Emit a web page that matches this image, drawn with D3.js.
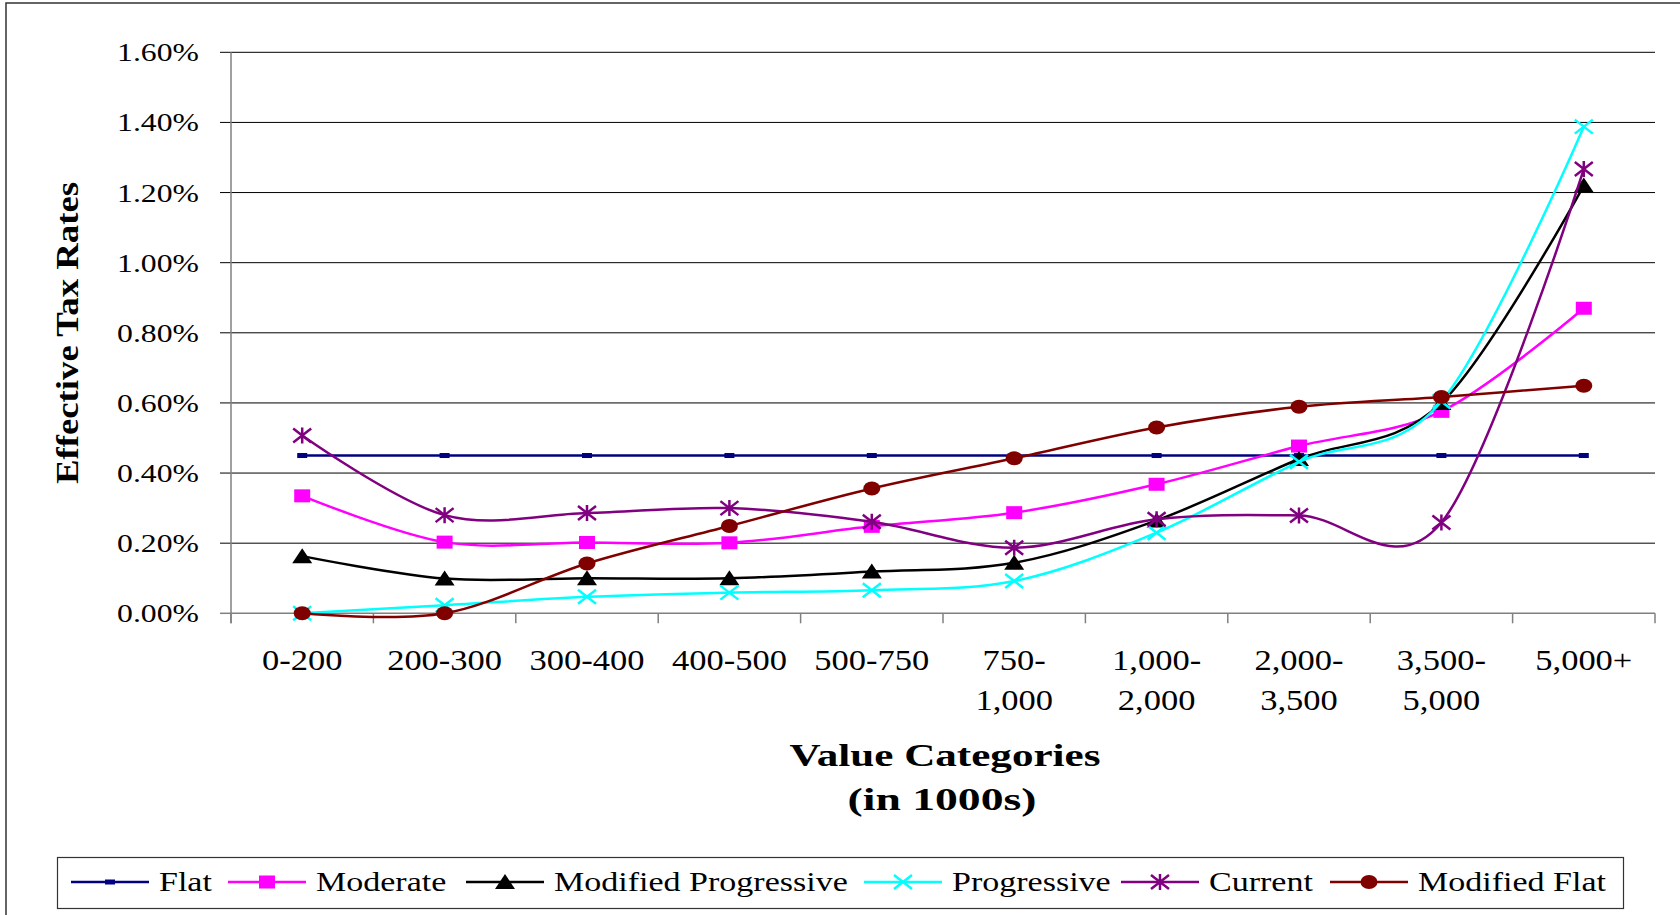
<!DOCTYPE html>
<html>
<head>
<meta charset="utf-8">
<script src="https://cdn.jsdelivr.net/npm/d3@7"></script>
<style>
  body { margin: 0; background: #fff; }
  svg { display: block; }
  text { font-family: "Liberation Serif", "Times New Roman", serif; fill: #000; }
</style>
</head>
<body>
<div id="chart"></div>
<script>
// categories (x axis), value in percent
var categories = ["0-200", "200-300", "300-400", "400-500", "500-750",
  "750-\n1,000", "1,000-\n2,000", "2,000-\n3,500", "3,500-\n5,000", "5,000+"];

var flat         = [0.45, 0.45, 0.45, 0.45, 0.45, 0.45, 0.45, 0.45, 0.45, 0.45];
var moderate     = [0.335, 0.203, 0.202, 0.201, 0.248, 0.287, 0.368, 0.477, 0.576, 0.87];
var modProg      = [0.163, 0.099, 0.10, 0.10, 0.119, 0.144, 0.265, 0.44, 0.60, 1.22];
var progressive  = [0.0, 0.023, 0.047, 0.059, 0.066, 0.092, 0.23, 0.432, 0.604, 1.388];
var current      = [0.507, 0.28, 0.286, 0.30, 0.261, 0.187, 0.268, 0.279, 0.259, 1.267];
var modifiedFlat = [0.0, 0.0, 0.142, 0.249, 0.356, 0.442, 0.53, 0.589, 0.617, 0.649];

var yTicks = [0, 0.2, 0.4, 0.6, 0.8, 1.0, 1.2, 1.4, 1.6];

var series = [
  { name: "Flat", values: flat, color: "#000080", marker: "dash" },
  { name: "Moderate", values: moderate, color: "#FF00FF", marker: "square" },
  { name: "Modified Progressive", values: modProg, color: "#000000", marker: "triangle" },
  { name: "Progressive", values: progressive, color: "#00FFFF", marker: "x" },
  { name: "Current", values: current, color: "#800080", marker: "star" },
  { name: "Modified Flat", values: modifiedFlat, color: "#800000", marker: "circle" }
];

var width = 1680, height = 915;
var plotLeft = 231, plotRight = 1655, plotTop = 52.3, plotBottom = 613.3;

var svg = d3.select("#chart").append("svg")
  .attr("width", width)
  .attr("height", height);

// outer chart border
svg.append("rect")
  .attr("x", 6).attr("y", 3)
  .attr("width", width + 20).attr("height", height + 20)
  .attr("fill", "#fff")
  .attr("stroke", "#333")
  .attr("stroke-width", 1.5);

var x = d3.scaleBand().domain(categories).range([plotLeft, plotRight]).padding(0);
var y = d3.scaleLinear().domain([0, 1.6]).range([plotBottom, plotTop]);
var cx = function (i) { return x(categories[i]) + x.bandwidth() / 2; };

// gridlines + left ticks
svg.selectAll("line.grid")
  .data(yTicks.slice(1))
  .enter().append("line")
  .attr("class", "grid")
  .attr("x1", plotLeft - 11).attr("x2", plotRight)
  .attr("y1", function (d) { return y(d); })
  .attr("y2", function (d) { return y(d); })
  .attr("stroke", "#000")
  .attr("stroke-width", 1);

svg.append("line")
  .attr("x1", plotLeft - 11).attr("x2", plotLeft)
  .attr("y1", y(0)).attr("y2", y(0))
  .attr("stroke", "#808080").attr("stroke-width", 1.5);

// y tick labels (text is horizontally stretched in the original)
var fmt = d3.format(".2f");
svg.selectAll("text.ytick")
  .data(yTicks)
  .enter().append("text")
  .attr("class", "ytick")
  .attr("text-anchor", "end")
  .attr("font-size", 26)
  .attr("transform", function (d) { return "translate(199," + (y(d) + 9) + ") scale(1.22,1)"; })
  .text(function (d) { return fmt(d) + "%"; });

// axes
svg.append("line")
  .attr("x1", plotLeft).attr("x2", plotLeft)
  .attr("y1", plotTop).attr("y2", plotBottom + 10)
  .attr("stroke", "#808080").attr("stroke-width", 1.5);
svg.append("line")
  .attr("x1", plotLeft).attr("x2", plotRight)
  .attr("y1", plotBottom).attr("y2", plotBottom)
  .attr("stroke", "#808080").attr("stroke-width", 1.5);

var boundaries = categories.map(function (c) { return x(c); }).concat([plotRight]);
svg.selectAll("line.xtick")
  .data(boundaries)
  .enter().append("line")
  .attr("class", "xtick")
  .attr("x1", function (d) { return d; }).attr("x2", function (d) { return d; })
  .attr("y1", plotBottom).attr("y2", plotBottom + 10)
  .attr("stroke", "#808080").attr("stroke-width", 1.5);

// x tick labels
categories.forEach(function (c, i) {
  c.split("\n").forEach(function (part, j) {
    svg.append("text")
      .attr("text-anchor", "middle")
      .attr("font-size", 30)
      .attr("transform", "translate(" + cx(i) + "," + (670 + j * 40) + ") scale(1.15,1)")
      .text(part);
  });
});

// axis titles
svg.append("text")
  .attr("text-anchor", "middle")
  .attr("font-size", 32)
  .attr("font-weight", "bold")
  .attr("transform", "translate(78,333) rotate(-90)")
  .attr("textLength", 302)
  .attr("lengthAdjust", "spacingAndGlyphs")
  .text("Effective Tax Rates");

svg.append("text")
  .attr("x", 945).attr("y", 766)
  .attr("text-anchor", "middle")
  .attr("font-size", 32)
  .attr("font-weight", "bold")
  .attr("textLength", 311)
  .attr("lengthAdjust", "spacingAndGlyphs")
  .text("Value Categories");

svg.append("text")
  .attr("x", 942).attr("y", 810)
  .attr("text-anchor", "middle")
  .attr("font-size", 32)
  .attr("font-weight", "bold")
  .attr("textLength", 189)
  .attr("lengthAdjust", "spacingAndGlyphs")
  .text("(in 1000s)");

// markers
function drawMarker(g, type, px, py, color) {
  if (type === "dash") {
    g.append("rect").attr("x", px - 5).attr("y", py - 2.5).attr("width", 10).attr("height", 5)
      .attr("fill", color);
  } else if (type === "square") {
    g.append("rect").attr("x", px - 8).attr("y", py - 6.5).attr("width", 16).attr("height", 13)
      .attr("fill", color);
  } else if (type === "triangle") {
    g.append("path").attr("d", "M" + px + "," + (py - 8) + "L" + (px + 10) + "," + (py + 7) + "L" + (px - 10) + "," + (py + 7) + "Z")
      .attr("fill", color);
  } else if (type === "x") {
    g.append("path").attr("d", "M" + (px - 9) + "," + (py - 7) + "L" + (px + 9) + "," + (py + 7) +
      "M" + (px - 9) + "," + (py + 7) + "L" + (px + 9) + "," + (py - 7))
      .attr("stroke", color).attr("stroke-width", 2.5).attr("fill", "none");
  } else if (type === "star") {
    g.append("path").attr("d", "M" + (px - 9) + "," + (py - 7) + "L" + (px + 9) + "," + (py + 7) +
      "M" + (px - 9) + "," + (py + 7) + "L" + (px + 9) + "," + (py - 7) +
      "M" + px + "," + (py - 8) + "L" + px + "," + (py + 8))
      .attr("stroke", color).attr("stroke-width", 2.5).attr("fill", "none");
  } else if (type === "circle") {
    g.append("ellipse").attr("cx", px).attr("cy", py).attr("rx", 8.5).attr("ry", 7)
      .attr("fill", color);
  }
}

// smoothed lines like Excel (Catmull-Rom)
var line = d3.line()
  .x(function (d, i) { return cx(i); })
  .y(function (d) { return y(d); })
  .curve(d3.curveCardinal.tension(0));

series.forEach(function (s) {
  var g = svg.append("g").attr("class", "series");
  g.append("path")
    .datum(s.values)
    .attr("d", line)
    .attr("fill", "none")
    .attr("stroke", s.color)
    .attr("stroke-width", 2.5);
  s.values.forEach(function (v, i) {
    drawMarker(g, s.marker, cx(i), y(v), s.color);
  });
});

// legend
var legend = svg.append("g").attr("class", "legend");
legend.append("rect")
  .attr("x", 57.5).attr("y", 857.5)
  .attr("width", 1566).attr("height", 51)
  .attr("fill", "#fff")
  .attr("stroke", "#333").attr("stroke-width", 1.2);

var legendX = [71, 228, 466, 864, 1121, 1330];
var legendY = 882;
series.forEach(function (s, i) {
  var lx = legendX[i];
  legend.append("line")
    .attr("x1", lx).attr("x2", lx + 78)
    .attr("y1", legendY).attr("y2", legendY)
    .attr("stroke", s.color).attr("stroke-width", 2.5);
  drawMarker(legend, s.marker, lx + 39, legendY, s.color);
  legend.append("text")
    .attr("font-size", 27)
    .attr("transform", "translate(" + (lx + 88) + "," + (legendY + 9) + ") scale(1.26,1)")
    .text(s.name);
});
</script>
</body>
</html>
